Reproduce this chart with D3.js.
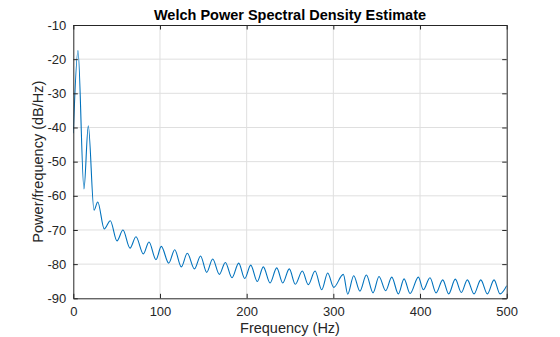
<!DOCTYPE html>
<html>
<head>
<meta charset="utf-8">
<script src="https://cdn.jsdelivr.net/npm/d3@7"></script>
<style>
  html, body { margin: 0; padding: 0; background: #fff; }
  svg { display: block; font-family: "Liberation Sans", Arial, Helvetica, sans-serif; }
</style>
</head>
<body>
<svg id="chart" width="560" height="337"></svg>
<script>
// Frequency (Hz) and PSD (dB/Hz) at local extrema
const freqHz = [0, 5.4, 12.3, 17.3, 23.9, 28.2, 35.7, 42.7, 50.4, 57.3, 65.4, 72.3, 80.8, 87.3, 95.4, 101.5,
  110.1, 117.0, 124.6, 131.5, 139.8, 146.8, 153.9, 160.8, 168.5, 175.4, 183.1, 190.8, 197.8, 204.7,
  212.3, 219.2, 227.0, 234.7, 241.6, 249.2, 256.1, 264.2, 271.1, 278.9, 286.6, 293.5, 300.4, 311.5,
  316.6, 323.5, 330.6, 338.1, 345.8, 352.7, 360.4, 367.4, 375.0, 381.6, 388.5, 398.1, 403.8, 411.5,
  418.5, 426.2, 433.1, 440.7, 447.7, 454.6, 462.3, 470.1, 477.7, 485.4, 492.3, 500];
const psdDb = [-41.7, -17.5, -58.0, -39.5, -64.2, -61.8, -69.7, -67.3, -73.2, -70.0, -75.3, -72.0, -77.0, -73.5, -78.7, -74.8,
  -79.7, -75.8, -80.8, -76.8, -81.4, -77.6, -82.4, -78.5, -83.0, -79.5, -84.0, -79.7, -84.2, -80.3,
  -85.1, -80.8, -85.5, -81.1, -85.5, -81.4, -85.9, -82.0, -86.0, -82.0, -87.5, -82.6, -86.8, -83.0,
  -88.8, -83.4, -87.9, -83.2, -88.4, -83.6, -87.8, -83.8, -88.7, -84.3, -88.6, -83.8, -87.5, -84.0,
  -88.4, -84.6, -88.7, -84.4, -88.3, -84.6, -88.7, -84.6, -88.7, -84.6, -88.7, -86.3];
const xTicks = [0, 100, 200, 300, 400, 500];
const yTicks = [-90, -80, -70, -60, -50, -40, -30, -20, -10];
const titleText = "Welch Power Spectral Density Estimate";
const xLabel = "Frequency (Hz)";
const yLabel = "Power/frequency (dB/Hz)";

const W = 560, H = 337;
const m = { left: 73.3, right: 53.3, top: 25, bottom: 38.7 };
const iw = W - m.left - m.right, ih = H - m.top - m.bottom;
const axisColor = "#262626", gridColor = "#dfdfdf", lineColor = "#0072BD";

const svg = d3.select("#chart");
const g = svg.append("g").attr("transform", `translate(${m.left},${m.top})`);

const x = d3.scaleLinear().domain([0, 500]).range([0, iw]);
const y = d3.scaleLinear().domain([-90, -10]).range([ih, 0]);

// grid
g.append("g").selectAll("line").data(xTicks.slice(1, -1)).join("line")
  .attr("x1", d => x(d)).attr("x2", d => x(d)).attr("y1", 0).attr("y2", ih)
  .attr("stroke", gridColor).attr("stroke-width", 1);
g.append("g").selectAll("line").data(yTicks.slice(1, -1)).join("line")
  .attr("y1", d => y(d)).attr("y2", d => y(d)).attr("x1", 0).attr("x2", iw)
  .attr("stroke", gridColor).attr("stroke-width", 1);

// data
svg.append("defs").append("clipPath").attr("id", "clip")
  .append("rect").attr("width", iw).attr("height", ih);
const pts = freqHz.map((f, i) => [f, psdDb[i]]);
const lineGen = d3.line().x(d => x(d[0])).y(d => y(d[1])).curve(d3.curveMonotoneX);
g.append("path").datum(pts).attr("clip-path", "url(#clip)")
  .attr("fill", "none").attr("stroke", lineColor).attr("stroke-width", 1.1)
  .attr("stroke-linejoin", "round").attr("d", lineGen);

// axes (ticks inward, box)
const tl = 4.5;
const fontSize = 13;
const plain = d => String(d);
const ax = g.append("g").attr("transform", `translate(0,${ih})`)
  .call(d3.axisBottom(x).tickValues(xTicks).tickFormat(plain).tickSizeInner(-tl).tickSizeOuter(0).tickPadding(8));
const ay = g.append("g")
  .call(d3.axisLeft(y).tickValues(yTicks).tickFormat(plain).tickSizeInner(-tl).tickSizeOuter(0).tickPadding(7));
const axTop = g.append("g")
  .call(d3.axisTop(x).tickValues(xTicks).tickSizeInner(-tl).tickSizeOuter(0).tickFormat(""));
const ayR = g.append("g").attr("transform", `translate(${iw},0)`)
  .call(d3.axisRight(y).tickValues(yTicks).tickSizeInner(-tl).tickSizeOuter(0).tickFormat(""));
[ax, ay, axTop, ayR].forEach(a => {
  a.select(".domain").attr("stroke", axisColor).attr("stroke-width", 1);
  a.selectAll(".tick line").attr("stroke", axisColor);
  a.selectAll("text").attr("fill", axisColor).style("font-size", fontSize + "px")
    .style("font-family", "'Liberation Sans', Arial, sans-serif");
});
ax.selectAll(".tick text").attr("dy", "0.71em");

// title & labels
svg.append("text").attr("x", m.left + iw / 2).attr("y", 19.5)
  .attr("text-anchor", "middle").attr("font-weight", "bold").attr("font-size", 14.5)
  .attr("fill", "#000").text(titleText);
svg.append("text").attr("x", m.left + iw / 2).attr("y", 333)
  .attr("text-anchor", "middle").attr("font-size", 14.5).attr("fill", axisColor).text(xLabel);
svg.append("text").attr("transform", `translate(43,${m.top + ih / 2}) rotate(-90)`)
  .attr("text-anchor", "middle").attr("font-size", 14.5).attr("fill", axisColor).text(yLabel);
</script>
</body>
</html>
